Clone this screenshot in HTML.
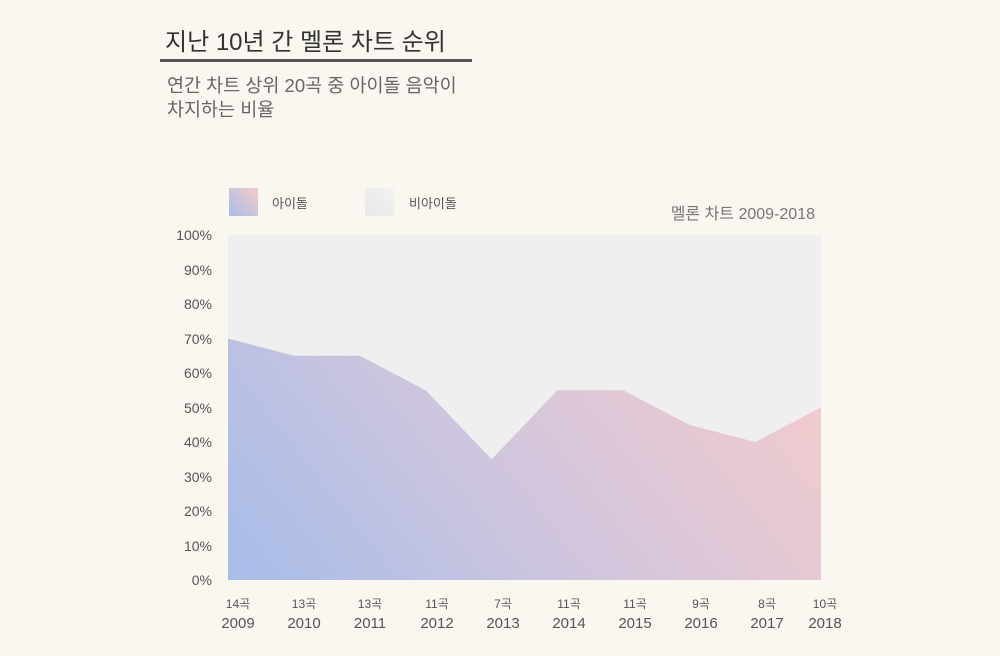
<!DOCTYPE html>
<html><head><meta charset="utf-8"><style>
body{margin:0;width:1000px;height:656px;background:#faf6f0;overflow:hidden;font-family:"Liberation Sans","Noto Sans CJK KR",sans-serif;}
</style></head><body>
<svg width="1000" height="656" xmlns="http://www.w3.org/2000/svg" style="position:absolute;left:0;top:0;font-family:'Liberation Sans','Noto Sans CJK KR',sans-serif">
<defs>
<linearGradient id="g" x1="300" y1="640" x2="760" y2="280" gradientUnits="userSpaceOnUse">
<stop offset="0" stop-color="#a9bde8"/><stop offset="0.5" stop-color="#d4c6dc"/><stop offset="1" stop-color="#f4cbcc"/>
</linearGradient>
<linearGradient id="lg" x1="0" y1="1" x2="1" y2="0">
<stop offset="0" stop-color="#a9bde8"/><stop offset="1" stop-color="#f4cbcc"/>
</linearGradient>
<linearGradient id="gg" x1="0" y1="1" x2="1" y2="0">
<stop offset="0" stop-color="#e8e8e8"/><stop offset="1" stop-color="#f2f2f2"/>
</linearGradient>
</defs>
<text x="165" y="50" font-size="24" fill="#333">지난 10년 간 멜론 차트 순위</text>
<rect x="160" y="59" width="312" height="3" fill="#555"/>
<text x="167" y="92" font-size="18.5" fill="#666">연간 차트 상위 20곡 중 아이돌 음악이</text>
<text x="167" y="116" font-size="18.5" fill="#666">차지하는 비율</text>
<rect x="229" y="188" width="29" height="28" fill="url(#lg)"/>
<text x="272" y="208" font-size="13" fill="#555">아이돌</text>
<rect x="365" y="188" width="29" height="28" fill="url(#gg)"/>
<text x="409" y="208" font-size="13" fill="#555">비아이돌</text>
<text x="815" y="219" font-size="16" fill="#777" text-anchor="end">멜론 차트  2009-2018</text>
<rect x="228" y="235" width="593" height="345" fill="#efefef"/>
<polygon fill="url(#g)" points="228,338.5 293.9,355.8 359.8,355.8 425.7,390.3 491.6,459.3 557.4,390.3 623.3,390.3 689.2,424.8 755.1,442 821,407.5 821,580 228,580"/>
<g font-size="14" fill="#555" text-anchor="end">
<text x="212" y="240">100%</text><text x="212" y="275">90%</text><text x="212" y="309">80%</text>
<text x="212" y="344">70%</text><text x="212" y="378">60%</text><text x="212" y="413">50%</text>
<text x="212" y="447">40%</text><text x="212" y="482">30%</text><text x="212" y="516">20%</text>
<text x="212" y="551">10%</text><text x="212" y="585">0%</text>
</g>
<g fill="#555" text-anchor="middle">
<g font-size="12">
<text x="238" y="608">14곡</text><text x="304" y="608">13곡</text><text x="370" y="608">13곡</text>
<text x="437" y="608">11곡</text><text x="503" y="608">7곡</text><text x="569" y="608">11곡</text>
<text x="635" y="608">11곡</text><text x="701" y="608">9곡</text><text x="767" y="608">8곡</text>
<text x="825" y="608">10곡</text></g>
<g font-size="15">
<text x="238" y="628">2009</text><text x="304" y="628">2010</text><text x="370" y="628">2011</text>
<text x="437" y="628">2012</text><text x="503" y="628">2013</text><text x="569" y="628">2014</text>
<text x="635" y="628">2015</text><text x="701" y="628">2016</text><text x="767" y="628">2017</text>
<text x="825" y="628">2018</text></g>
</g>
</svg>
</body></html>
